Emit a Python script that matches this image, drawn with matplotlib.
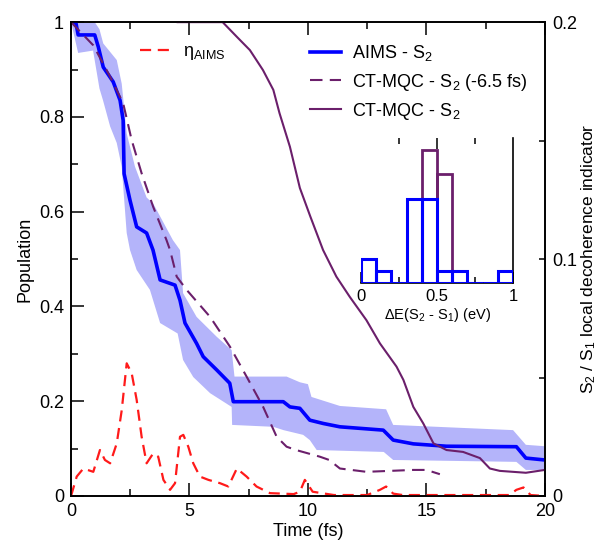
import matplotlib
matplotlib.use('Agg')
import matplotlib.pyplot as plt
import numpy as np
from matplotlib.ticker import MultipleLocator, FuncFormatter

plt.rcParams['font.family'] = ['Liberation Sans', 'DejaVu Sans']
plt.rcParams['mathtext.fontset'] = 'custom'
plt.rcParams['mathtext.rm'] = 'Liberation Sans'
plt.rcParams['mathtext.it'] = 'Liberation Sans:italic'
plt.rcParams['mathtext.default'] = 'regular'

# ---------------- data ----------------
# AIMS S2 population (mean)
aims_t = [0, 0.2, 0.3, 1.0, 1.15, 1.36, 1.78, 2.07, 2.2, 2.24, 2.49, 2.77, 3.19, 3.46, 3.76,
          4.39, 4.6, 4.81, 5.3, 5.58, 6.15, 6.7, 6.85, 8.96, 9.24, 9.66, 10.08, 10.65, 11.35,
          13.18, 13.6, 14.45, 15.85, 18.8, 19.2, 20]
aims_p = [1.0, 1.0, 0.973, 0.973, 0.948, 0.905, 0.874, 0.835, 0.793, 0.68, 0.624, 0.568, 0.555,
          0.519, 0.456, 0.445, 0.413, 0.365, 0.322, 0.294, 0.266, 0.238, 0.199, 0.199, 0.188,
          0.185, 0.16, 0.153, 0.146, 0.139, 0.118, 0.11, 0.105, 0.104, 0.08, 0.076]

# AIMS uncertainty band
band_hi_t = [0, 1.0, 1.2, 1.36, 1.93, 2.14, 2.35, 2.7, 3.19, 3.47, 4.3, 4.6, 4.73, 5.3, 6.15,
             6.78, 6.9, 9.1, 9.66, 10.0, 10.15, 11.35, 13.3, 13.6, 18.66, 19.2, 20]
band_hi = [1.0, 1.0, 0.985, 0.955, 0.92, 0.87, 0.765, 0.695, 0.63, 0.617, 0.54, 0.519, 0.428,
           0.378, 0.336, 0.308, 0.252, 0.252, 0.24, 0.236, 0.209, 0.19, 0.183, 0.15, 0.139,
           0.108, 0.105]
band_lo_t = [0, 0.3, 0.93, 1.2, 1.35, 1.65, 1.93, 2.14, 2.35, 2.49, 2.77, 3.33, 3.76, 4.5, 4.73,
             5.16, 5.87, 6.78, 6.8, 8.54, 8.97, 9.8, 10.08, 10.37, 13.2, 13.6, 18.8, 19.2, 20]
band_lo = [1.0, 0.935, 0.94, 0.86, 0.835, 0.78, 0.745, 0.695, 0.555, 0.519, 0.477, 0.435, 0.365,
           0.343, 0.287, 0.251, 0.217, 0.188, 0.15, 0.146, 0.139, 0.129, 0.118, 0.097, 0.093,
           0.076, 0.072, 0.055, 0.055]

# CT-MQC S2 shifted by -6.5 fs
ctsh_t = [0, 0.94, 1.65, 2.2, 2.56, 2.98, 3.47, 4.03, 4.18, 4.46, 4.88, 5.87, 6.71, 7.41, 8.11,
          8.68, 9.1, 9.5, 10.5, 10.9, 11.35, 12.47, 14.45, 15.0, 15.57]
ctsh_p = [1.0, 0.951, 0.885, 0.829, 0.751, 0.681, 0.61, 0.54, 0.519, 0.463, 0.435, 0.378, 0.315,
          0.252, 0.188, 0.125, 0.104, 0.097, 0.083, 0.076, 0.058, 0.051, 0.055, 0.055, 0.046]

# CT-MQC S2
ct_t = [4.5, 6.4, 7.0, 7.55, 8.1, 8.54, 8.8, 9.24, 9.66, 10.1, 10.64, 11.2, 11.77, 12.47, 13.04,
        13.74, 14.03, 14.45, 14.87, 15.3, 15.85, 16.55, 17.26, 17.68, 18.1, 19.2, 20]
ct_p = [1.0, 1.0, 0.969, 0.941, 0.899, 0.857, 0.808, 0.737, 0.65, 0.59, 0.519, 0.463, 0.42, 0.371,
        0.322, 0.273, 0.245, 0.188, 0.153, 0.111, 0.097, 0.093, 0.08, 0.058, 0.053, 0.049, 0.055]

# eta_AIMS (right axis)
eta_t = [0, 0.24, 0.52, 0.94, 1.22, 1.43, 1.65, 1.93, 2.14, 2.35, 2.56, 2.77, 2.98, 3.19, 3.47,
         3.68, 3.9, 4.18, 4.39, 4.6, 4.74, 4.95, 5.16, 5.44, 5.8, 6.29, 6.64, 7.0, 7.41, 7.83,
         8.4, 9.4, 9.66, 9.87, 10.2, 11.1, 12.5, 13.04, 13.3, 13.6, 14.0, 16.0, 18.5, 18.8,
         19.1, 19.4, 20]
eta_v = [0, 0.0082, 0.0116, 0.0102, 0.0194, 0.0152, 0.0138, 0.0222, 0.0362, 0.056, 0.0518,
         0.0406, 0.025, 0.0138, 0.018, 0.0166, 0.0068, 0.0026, 0.0054, 0.025, 0.0258, 0.0208,
         0.0138, 0.0082, 0.0068, 0.0054, 0.004, 0.0116, 0.0082, 0.004, 0.0012, 0.0008, 0.0018,
         0.0068, 0.0018, 0.0004, 0.0004, 0.0026, 0.004, 0.001, 0.0004, 0.0004, 0.0004, 0.0026,
         0.0036, 0.0004, 0.0]

# inset histogram of Delta E(S2-S1)
hist_edges = [0.0, 0.1, 0.2, 0.3, 0.4, 0.5, 0.6, 0.7, 0.8, 0.9, 1.0]
hist_aims = [2, 1, 0, 7, 7, 1, 1, 0, 0, 1]
hist_ct = [0, 0, 0, 0, 11, 9, 0, 0, 0, 0]

BLUE = '#0000ff'
BAND = '#b4b4fa'
PURPLE = '#6b1f6b'
RED = '#ff1a1a'
FS = 13

fmt = FuncFormatter(lambda v, pos: '%g' % round(v, 4))

fig = plt.figure(figsize=(6.02, 5.4), dpi=100)
ax = fig.add_axes([0.118, 0.0815, 0.787, 0.8775])

ax.fill(np.concatenate([band_hi_t, band_lo_t[::-1]]),
        np.concatenate([band_hi, band_lo[::-1]]), color=BAND, lw=0, zorder=1)
l_aims, = ax.plot(aims_t, aims_p, color=BLUE, lw=2.6, zorder=3, label='AIMS - S$_2$')
l_ctsh, = ax.plot(ctsh_t, ctsh_p, color=PURPLE, lw=1.5, ls=(0, (6, 3.5)), zorder=4,
                  label='CT-MQC - S$_2$ (-6.5 fs)')
l_ct, = ax.plot(ct_t, ct_p, color=PURPLE, lw=1.5, zorder=5, label='CT-MQC - S$_2$')

ax.set_xlim(0, 20)
ax.set_ylim(0, 1)
ax.xaxis.set_major_locator(MultipleLocator(5))
ax.xaxis.set_minor_locator(MultipleLocator(2.5))
ax.yaxis.set_major_locator(MultipleLocator(0.2))
ax.yaxis.set_minor_locator(MultipleLocator(0.1))
ax.xaxis.set_major_formatter(fmt)
ax.yaxis.set_major_formatter(fmt)
ax.tick_params(which='both', direction='in', top=True, right=False, labelsize=FS, pad=5)
ax.tick_params(which='major', length=9.5, width=1.1)
ax.tick_params(which='minor', length=5, width=1.1)
for s in ax.spines.values():
    s.set_linewidth(1.2)
ax.set_xlabel('Time (fs)', fontsize=FS, labelpad=2)
ax.set_ylabel('Population', fontsize=FS, labelpad=4)

ax2 = ax.twinx()
l_eta, = ax2.plot(eta_t, eta_v, color=RED, lw=1.6, ls=(0, (5, 3)), label=r'η$_{\rm AIMS}$')
ax2.set_ylim(0, 0.2)
ax2.yaxis.set_major_locator(MultipleLocator(0.1))
ax2.yaxis.set_minor_locator(MultipleLocator(0.05))
ax2.yaxis.set_major_formatter(fmt)
ax2.tick_params(which='both', direction='in', length=4, width=1.1, labelsize=FS, pad=5)
ax2.set_ylabel('S$_2$ / S$_1$ local decoherence indicator', fontsize=12.5, labelpad=2)
for s in ax2.spines.values():
    s.set_linewidth(1.2)

leg1 = ax2.legend(handles=[l_aims, l_ctsh, l_ct], loc='upper left',
                  bbox_to_anchor=(0.505, 0.955), frameon=False, fontsize=FS,
                  handlelength=1.7, handletextpad=0.6, labelspacing=0.45,
                  borderpad=0, borderaxespad=0)
ax2.add_artist(leg1)
ax2.legend(handles=[l_eta], loc='upper left', bbox_to_anchor=(0.145, 0.955),
           frameon=False, fontsize=FS, handlelength=1.6, handletextpad=0.8,
           borderpad=0, borderaxespad=0)

# inset
ins = fig.add_axes([0.5997, 0.476, 0.2525, 0.268])
ins.patch.set_alpha(0)
w = np.diff(hist_edges)
ins.bar(hist_edges[:-1], hist_ct, width=w, align='edge', fill=False,
        edgecolor=PURPLE, lw=2.0, zorder=2)
ins.bar(hist_edges[:-1], hist_aims, width=w, align='edge', fill=False,
        edgecolor=BLUE, lw=2.2, zorder=3)
ins.set_xlim(0, 1)
ins.set_ylim(0, 12)
ins.spines['left'].set_visible(False)
ins.spines['top'].set_visible(False)
ins.spines['right'].set_linewidth(1.2)
ins.spines['bottom'].set_linewidth(1.2)
ins.set_yticks([])
ins.xaxis.set_major_locator(MultipleLocator(0.5))
ins.xaxis.set_minor_locator(MultipleLocator(0.25))
ins.xaxis.set_major_formatter(fmt)
ins.tick_params(axis='x', which='both', direction='in', labelsize=12, pad=4)
ins.tick_params(axis='x', which='major', length=8, width=1.1)
ins.tick_params(axis='x', which='minor', length=4, width=1.1)
sec = ins.secondary_xaxis('top')
sec.set_xticks([0.5])
sec.set_xticks([0.25, 0.75], minor=True)
sec.set_xticklabels([])
sec.spines['top'].set_visible(False)
sec.tick_params(which='both', direction='in', width=1.1)
sec.tick_params(which='major', length=8)
sec.tick_params(which='minor', length=4)
ins.set_xlabel('ΔE(S$_2$ - S$_1$) (eV)', fontsize=10.5, labelpad=2)

fig.savefig('out.png', dpi=100)
